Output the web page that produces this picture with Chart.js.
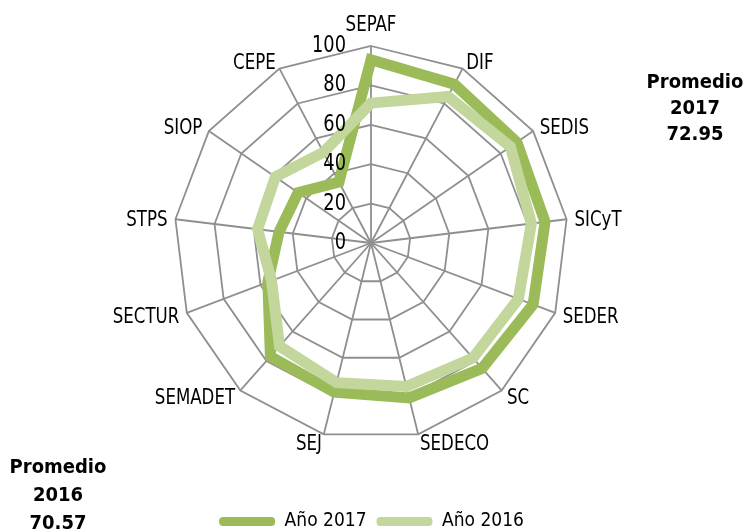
<!DOCTYPE html>
<html lang="es">
<head>
<meta charset="utf-8">
<title>Promedio por dependencia</title>
<script src="https://cdn.jsdelivr.net/npm/chart.js@4.4.1/dist/chart.umd.min.js"></script>
<style>
    html, body { margin: 0; padding: 0; background: #fff; }
    #wrap { position: relative; width: 743px; height: 531px; }
    .promedio {
        position: absolute;
        width: 110px;
        text-align: center;
        font: bold 20px 'Liberation Sans Narrow', 'DejaVu Sans Condensed', sans-serif;
        color: #000;
    }
</style>
</head>
<body>
<div id="wrap">
    <canvas id="radarChart"></canvas>
    <div class="promedio" style="left: 640px; top: 68px; line-height: 26px;">Promedio<br>2017<br>72.95</div>
    <div class="promedio" style="left: 3px; top: 452px; line-height: 28px;">Promedio<br>2016<br>70.57</div>
</div>
<script>
const categorias = ['SEPAF', 'DIF', 'SEDIS', 'SICyT', 'SEDER', 'SC', 'SEDECO', 'SEJ', 'SEMADET', 'SECTUR', 'STPS', 'SIOP', 'CEPE'];
const valores2017 = [93, 91, 90, 89, 88, 85, 81, 78, 77, 56, 47, 45, 35];
const valores2016 = [71, 84, 86, 82, 80, 78, 75, 73, 70, 54, 58, 59, 52];
const marcasEje = [0, 20, 40, 60, 80, 100];

const FUENTE = "'Liberation Sans Narrow', 'DejaVu Sans Condensed', sans-serif";
const COLOR_REJILLA = '#8f8f8f';

// texto estrechado horizontalmente (la fuente original es condensada)
function textoEstrecho(ctx, texto, x, y, escala) {
    ctx.save();
    ctx.translate(x, y);
    ctx.scale(escala, 1);
    ctx.fillText(texto, 0, 0);
    ctx.restore();
}

// etiquetas de categorias y del eje, al estilo de Excel
const etiquetasPlugin = {
    id: 'etiquetas',
    afterDatasetsDraw(chart) {
        const scale = chart.scales.r;
        const ctx = chart.ctx;
        ctx.save();
        ctx.fillStyle = '#000';
        ctx.textBaseline = 'middle';

        ctx.font = '22px ' + FUENTE;
        chart.data.labels.forEach((label, i) => {
            const p = scale.getPointPosition(i, scale.drawingArea + 8);
            const dx = p.x - scale.xCenter;
            let y = p.y + 2;
            if (Math.abs(dx) < 1) {
                ctx.textAlign = 'center';
                y = p.y - 13;
            } else {
                ctx.textAlign = dx > 0 ? 'left' : 'right';
            }
            textoEstrecho(ctx, label, p.x, y, 0.84);
        });

        ctx.font = '23px ' + FUENTE;
        ctx.textAlign = 'right';
        scale.ticks.forEach(tick => {
            const p = scale.getPointPositionForValue(0, tick.value);
            textoEstrecho(ctx, String(tick.value), p.x - 25, p.y, 0.86);
        });
        ctx.restore();
    }
};

// baja la leyenda hasta el borde inferior
const leyendaPlugin = {
    id: 'leyendaAbajo',
    afterLayout(chart) {
        const shift = 61;
        chart.legend.top += shift;
        chart.legend.bottom += shift;
    }
};

new Chart(document.getElementById('radarChart'), {
    type: 'radar',
    data: {
        labels: categorias,
        datasets: [
            {
                label: 'Año 2017',
                data: valores2017,
                borderColor: '#9BBB59',
                backgroundColor: '#9BBB59',
                borderWidth: 11,
                borderJoinStyle: 'miter',
                pointRadius: 0,
                fill: false,
                order: 1,
            },
            {
                label: 'Año 2016',
                data: valores2016,
                borderColor: '#C3D69B',
                backgroundColor: '#C3D69B',
                borderWidth: 11,
                borderJoinStyle: 'miter',
                pointRadius: 0,
                fill: false,
                order: 0,
            },
        ],
    },
    options: {
        responsive: true,
        maintainAspectRatio: false,
        animation: false,
        layout: {
            padding: { top: 46, bottom: 51, left: 0, right: 0 },
        },
        plugins: {
            legend: {
                position: 'bottom',
                labels: {
                    color: '#000',
                    font: { family: FUENTE, size: 19 },
                    boxWidth: 56,
                    boxHeight: 9,
                    padding: 10,
                    useBorderRadius: true,
                    borderRadius: 4,
                    sort: (a, b) => a.datasetIndex - b.datasetIndex,
                    generateLabels: function (chart) {
                        const items = Chart.defaults.plugins.legend.labels.generateLabels(chart);
                        items.forEach(item => {
                            item.fillStyle = item.strokeStyle;
                            item.lineWidth = 0;
                        });
                        return items;
                    },
                },
            },
            tooltip: { enabled: false },
        },
        scales: {
            r: {
                min: marcasEje[0],
                max: marcasEje[marcasEje.length - 1],
                ticks: {
                    stepSize: marcasEje[1] - marcasEje[0],
                    display: false,
                },
                grid: { color: COLOR_REJILLA, lineWidth: 1.8 },
                angleLines: { color: COLOR_REJILLA, lineWidth: 1.8 },
                pointLabels: { display: false },
            },
        },
    },
    plugins: [etiquetasPlugin, leyendaPlugin],
});
</script>
</body>
</html>
